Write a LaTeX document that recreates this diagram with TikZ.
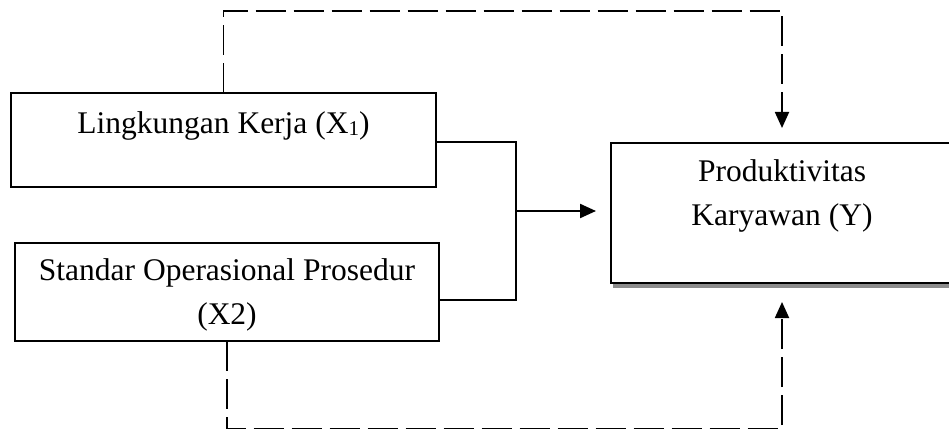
\documentclass[tikz,border=0pt]{standalone}
\usepackage{fontspec}
\setmainfont{Liberation Serif}
\usetikzlibrary{arrows.meta,shadows}
\newcommand{\lowsub}[1]{\raisebox{-2pt}{\fontsize{21}{21}\selectfont #1}}
\begin{document}
\begin{tikzpicture}[x=1pt,y=-1pt,
  boxst/.style={draw, line width=1.6pt, inner sep=0pt, outer sep=0pt, fill=white, anchor=north west},
  conn/.style={line width=2.2pt},
  dsh/.style={line width=1.9pt, dash pattern=on 30pt off 8pt},
  tip/.style={-{Triangle[length=16pt,width=14pt]}}]
\useasboundingbox (0,0) rectangle (949,430);
\node[boxst] (b1) at (11,93) {\parbox[t][94pt][t]{425pt}{\centering\fontsize{31.5}{44}\selectfont\rule{0pt}{41pt}Lingkungan Kerja (X\lowsub{1})}};
\node[boxst] (b2) at (15,243) {\parbox[t][98pt][t]{424pt}{\centering\fontsize{31.5}{44}\selectfont\rule{0pt}{37pt}Standar Operasional Prosedur\\(X2)}};
\node[boxst, copy shadow={shadow xshift=2.5pt, shadow yshift=-4pt, fill=gray!90, draw=gray!90}] (bY) at (611,143) {\parbox[t][140pt][t]{342pt}{\centering\fontsize{31.5}{44}\selectfont\rule{0pt}{39pt}Produktivitas\\Karyawan (Y)}};
\coordinate (j) at (516,211);
\draw[conn] ([yshift=-2pt]b1.east) -| (j);
\draw[conn] ([yshift=-8pt]b2.east) -| (j);
\draw[conn, tip, shorten >=15pt] (j) -- (j -| bY.west);
\coordinate (tc) at (bY.north |- 0,11);
\coordinate (bc) at (bY.south |- 0,428.5);
\draw[dsh, tip, shorten >=15pt] (b1.north) |- (tc) -- (bY.north);
\draw[dsh, tip, shorten >=19pt] (b2.south) |- (bc) -- (bY.south);
\end{tikzpicture}
\end{document}
